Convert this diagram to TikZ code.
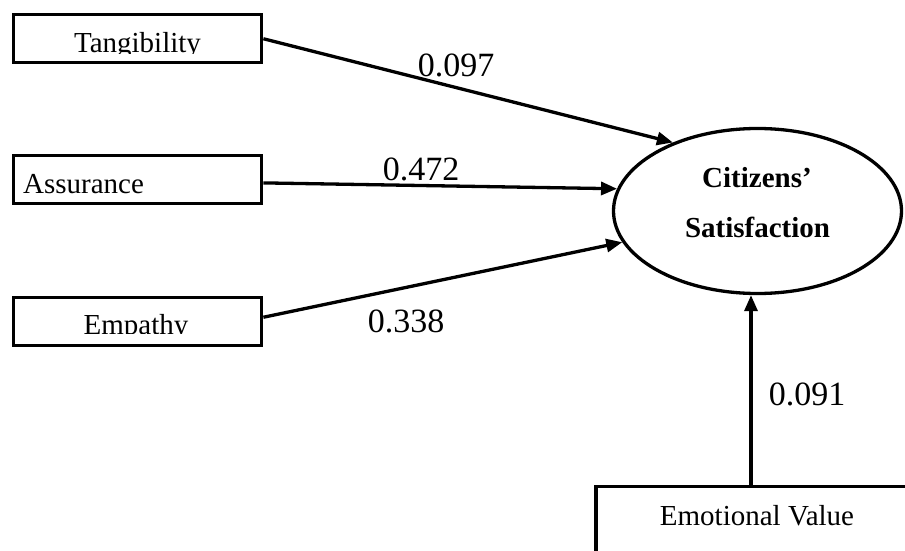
\documentclass[tikz,border=0pt]{standalone}
\usepackage{fontspec}
\setmainfont{Liberation Serif}
\usetikzlibrary{arrows.meta,shapes.geometric}
\begin{document}
\begin{tikzpicture}[x=1pt,y=-1pt,
  box/.style={draw,line width=3.3pt,minimum width=248pt,minimum height=48pt,inner sep=0pt},
  lbl/.style={font=\fontsize{29}{34}\selectfont,inner sep=0pt,anchor=base},
  bold/.style={font=\fontsize{29}{34}\selectfont\bfseries,inner sep=0pt,anchor=base},
  coef/.style={font=\fontsize{34}{40}\selectfont,inner sep=0pt,anchor=base},
  arr/.style={line width=3.3pt,-{Triangle[length=16pt,width=13pt]}},
]
\useasboundingbox (0,0) rectangle (905,551);

% boxes
\node[box] (tang) at (137.75,38.75) {};
\node[box] (assur) at (137.75,179.4) {};
\node[box] (emp) at (137.75,321.25) {};
\node[draw,line width=3.3pt,minimum width=314pt,minimum height=94pt,inner sep=0pt] (emo) at (753,533.5) {};

% ellipse
\node[draw,ellipse,line width=3.3pt,minimum width=288pt,minimum height=165pt,inner sep=0pt] (sat) at (757.5,211) {};

% texts
\begin{scope}
  \clip (16,17) rectangle (260,53.5);
  \node[lbl] (tangt) at (137.5,52.5) {Tangibility};
\end{scope}
\node[lbl,anchor=base west] (assurt) at (23,193) {Assurance};
\begin{scope}
  \clip (16,299) rectangle (260,333.5);
  \node[lbl] (empt) at (136,334.5) {Empathy};
\end{scope}
\node[lbl] (emot) at (757,525) {Emotional Value};
\node[bold] (sat1) at (757,187) {Citizens’};
\node[bold] (sat2) at (757.5,237.5) {Satisfaction};

% connectors
\draw[arr] (tang.east) -- (sat.141.3);
\draw[arr] ([yshift=-3.5pt]assur.east) -- (sat.171.8);
\draw[arr] ([yshift=4pt]emp.east) -- (sat.193.3);
\draw[arr] ([xshift=-2pt]emo.north) -- ([xshift=-2pt]emo.north |- sat.south);

% coefficients
\node[coef] (c1) at (456,77) {0.097};
\node[coef] (c2) at (421,180) {0.472};
\node[coef] (c3) at (406,332) {0.338};
\node[coef] (c4) at (807,405) {0.091};
\end{tikzpicture}
\end{document}
